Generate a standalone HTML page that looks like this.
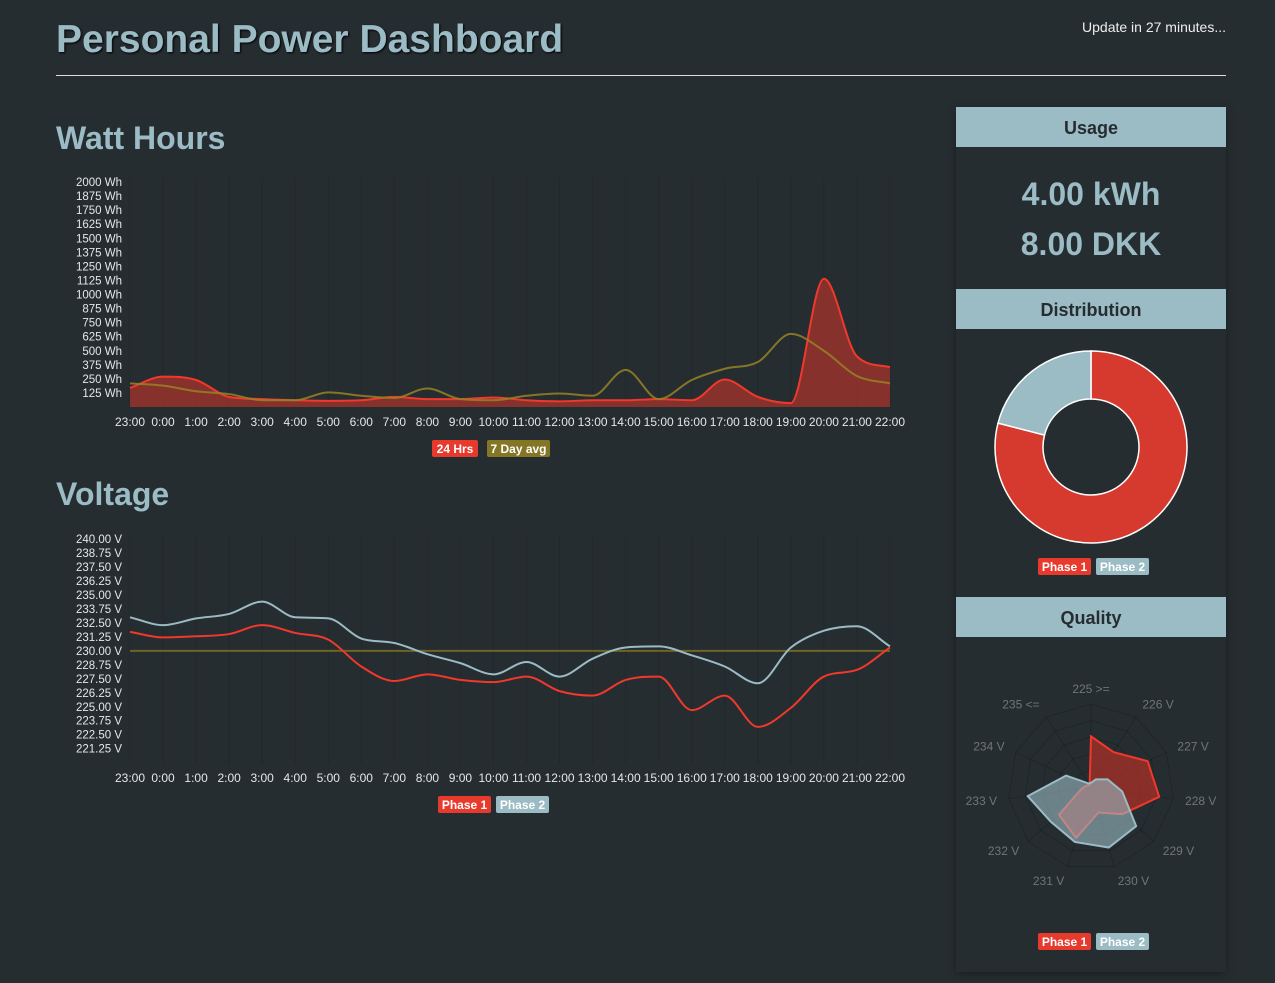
<!DOCTYPE html>
<html><head><meta charset="utf-8">
<style>
body{margin:0;width:1275px;height:983px;background:#262d31;font-family:"Liberation Sans",sans-serif;overflow:hidden;position:relative}
.abs{position:absolute}
h1{position:absolute;left:56px;top:18px;margin:0;font-size:39px;font-weight:bold;color:#9bbbc5;text-shadow:1px 1px 2px #000}
h2{position:absolute;margin:0;font-size:32px;font-weight:bold;color:#9bbbc5}
.panel{position:absolute;left:956px;top:107px;width:270px;height:865px;background:#262d31;box-shadow:0 2px 8px rgba(0,0,0,0.35)}
.hdr{position:absolute;left:0;width:270px;height:40px;background:#9bbbc5;color:#262d31;font-weight:bold;font-size:18px;text-align:center;line-height:42px}
.big{position:absolute;left:0;width:270px;text-align:center;color:#9bbbc5;font-weight:bold;font-size:32px}
</style></head><body>
<h1>Personal Power Dashboard</h1>
<div class="abs" style="right:49px;top:19px;color:#eee;font-size:14px">Update in 27 minutes...</div>
<div class="abs" style="left:56px;top:75px;width:1170px;height:1px;background:#ddd"></div>
<h2 style="left:56px;top:120px">Watt Hours</h2>
<h2 style="left:56px;top:476px">Voltage</h2>
<div class="panel">
<div class="hdr" style="top:0">Usage</div>
<div class="big" style="top:69px">4.00 kWh</div>
<div class="big" style="top:119px">8.00 DKK</div>
<div class="hdr" style="top:182px">Distribution</div>
<div class="hdr" style="top:490px">Quality</div>
</div>
<svg id="svg" width="1275" height="983" style="position:absolute;left:0;top:0"></svg>
<script>
const hours=["23:00","0:00","1:00","2:00","3:00","4:00","5:00","6:00","7:00","8:00","9:00","10:00","11:00","12:00","13:00","14:00","15:00","16:00","17:00","18:00","19:00","20:00","21:00","22:00"];
const whTicks=[2000,1875,1750,1625,1500,1375,1250,1125,1000,875,750,625,500,375,250,125];
const wh24=[170,270,240,90,70,60,55,60,90,70,70,85,60,50,60,60,70,60,245,90,35,1140,450,355];
const wh7d=[210,190,140,115,60,60,130,100,80,165,70,60,100,120,100,330,70,240,340,400,650,500,275,210];
const vTicks=[240,238.75,237.5,236.25,235,233.75,232.5,231.25,230,228.75,227.5,226.25,225,223.75,222.5,221.25];
const phase1=[231.7,231.2,231.3,231.5,232.3,231.6,231.0,228.6,227.3,227.9,227.4,227.2,227.7,226.4,226.0,227.4,227.7,224.7,226.0,223.2,224.9,227.7,228.3,230.3];
const phase2=[233.0,232.3,232.9,233.3,234.4,233.0,232.9,231.1,230.7,229.7,228.9,227.9,229.0,227.7,229.3,230.3,230.4,229.6,228.6,227.1,230.3,231.8,232.2,230.4];
const vRef=230;
const distLabels=["Phase 1","Phase 2"];
const distValues=[79,21];
const radarLabels=["225 >=","226 V","227 V","228 V","229 V","230 V","231 V","232 V","233 V","234 V","235 <="];
const radarP1=[61,50,75,83,50,32,64,51,11,5,3];
const radarP2=[5,11,22,38,72,76,69,64,77,33,5];

const svg=document.getElementById('svg');const NS='http://www.w3.org/2000/svg';
function el(t,a,txt){const e=document.createElementNS(NS,t);for(const k in a)e.setAttribute(k,a[k]);if(txt!=null)e.textContent=txt;svg.appendChild(e);return e;}
const X0=130,X1=890;
const xs=i=>X0+i*(X1-X0)/(hours.length-1);
function spline(pts){const n=pts.length;const d=[],m=[];
for(let i=0;i<n-1;i++)d.push((pts[i+1][1]-pts[i][1])/(pts[i+1][0]-pts[i][0]));
for(let i=0;i<n;i++){if(i==0)m.push(d[0]);else if(i==n-1)m.push(d[n-2]);else m.push(d[i-1]*d[i]<=0?0:(d[i-1]+d[i])/2);}
for(let i=0;i<n-1;i++){if(d[i]==0){m[i]=0;m[i+1]=0;continue;}const a=m[i]/d[i],b=m[i+1]/d[i],s=a*a+b*b;if(s>9){const t=3/Math.sqrt(s);m[i]=t*a*d[i];m[i+1]=t*b*d[i];}}
let s='M'+pts[0][0]+','+pts[0][1];
for(let i=0;i<n-1;i++){const h=(pts[i+1][0]-pts[i][0])/3;
s+=' C'+(pts[i][0]+h)+','+(pts[i][1]+m[i]*h)+' '+(pts[i+1][0]-h)+','+(pts[i+1][1]-m[i+1]*h)+' '+pts[i+1][0]+','+pts[i+1][1];}return s;}
function axes(ticks,yf,fmt,xlabY,nameP){
 hours.forEach((h,i)=>{const g=el('line',{x1:xs(i),x2:xs(i),y1:yf(ticks[0])-4,y2:xlabY-18,stroke:'rgba(0,0,0,0.12)'});
 
 const t=el('text',{x:xs(i),y:xlabY,'text-anchor':'middle','font-size':12,fill:'#e6e6e6'},h);
 });
 ticks.forEach(v=>{const t=el('text',{x:122,y:yf(v)+4,'text-anchor':'end','font-size':11.5,fill:'#e6e6e6'},fmt(v));
 });
}
// Watt hours chart
const whY=v=>407-v*(407-182)/2000;
axes(whTicks,whY,v=>v+' Wh',426,'wh');
let pts=wh24.map((v,i)=>[xs(i),whY(v)]);
let a=el('path',{d:spline(pts)+' L'+X1+','+whY(0)+' L'+X0+','+whY(0)+' Z',fill:'rgba(160,50,44,0.8)'});

a=el('path',{d:spline(pts),fill:'none',stroke:'#f2382b','stroke-width':2});

pts=wh7d.map((v,i)=>[xs(i),whY(v)]);
a=el('path',{d:spline(pts),fill:'none',stroke:'rgba(150,130,38,0.85)','stroke-width':2});

// Voltage chart
const vY=v=>539+(240-v)*(748.7-539)/18.75;
axes(vTicks,vY,v=>v.toFixed(2)+' V',782,'volt');
a=el('line',{x1:X0,x2:X1,y1:vY(vRef),y2:vY(vRef),stroke:'#6f6424','stroke-width':2});

a=el('path',{d:spline(phase2.map((v,i)=>[xs(i),vY(v)])),fill:'none',stroke:'#9bbbc5','stroke-width':2});

a=el('path',{d:spline(phase1.map((v,i)=>[xs(i),vY(v)])),fill:'none',stroke:'#f2382b','stroke-width':2});

// legends
function badge(x,y,w,txt,bg,name){const r=el('rect',{x:x,y:y,width:w,height:17,rx:2,fill:bg});

const t=el('text',{x:x+w/2,y:y+13,'text-anchor':'middle','font-size':12,'font-weight':'bold',fill:'#fff'},txt);
}
badge(432,440,46,'24 Hrs','#e8392d','legend-24hrs');badge(487,440,63,'7 Day avg','#857625','legend-7day-avg');
badge(438,796,53,'Phase 1','#e8392d','legend-volt-phase1');badge(496,796,53,'Phase 2','#9bbbc5','legend-volt-phase2');
badge(1038,558,53,'Phase 1','#e8392d','legend-dist-phase1');badge(1096,558,53,'Phase 2','#9bbbc5','legend-dist-phase2');
badge(1038,933,53,'Phase 1','#e8392d','legend-quality-phase1');badge(1096,933,53,'Phase 2','#9bbbc5','legend-quality-phase2');
// Donut
const cx=1091,cy=447,Ro=96,Ri=48,tot=distValues.reduce((s,v)=>s+v,0);let ang=0;const dcol=['#d63a2f','#9bbbc5'];
distValues.forEach((v,k)=>{const a0=ang,a1=ang+v/tot*2*Math.PI;ang=a1;const P=(r,t)=>[cx+r*Math.sin(t),cy-r*Math.cos(t)];
const big=(a1-a0)>Math.PI?1:0;const p1=P(Ro,a0),p2=P(Ro,a1),p3=P(Ri,a1),p4=P(Ri,a0);
const s=el('path',{d:`M${p1} A${Ro},${Ro} 0 ${big} 1 ${p2} L${p3} A${Ri},${Ri} 0 ${big} 0 ${p4} Z`,fill:dcol[k],stroke:'#fff','stroke-width':1.5});
 });
// Radar
const rx=1091,ry=787,RR=83,N=radarLabels.length;
const RP=(r,i)=>{const t=i*2*Math.PI/N;return [rx+r*Math.sin(t),ry-r*Math.cos(t)];};
for(let k=1;k<=5;k++){const p=radarLabels.map((_,i)=>RP(RR*k/5,i).join(',')).join(' ');
const g=el('polygon',{points:p,fill:'none',stroke:'rgba(0,0,0,0.18)'});}
radarLabels.forEach((l,i)=>{const e=RP(RR,i);const g=el('line',{x1:rx,y1:ry,x2:e[0],y2:e[1],stroke:'rgba(0,0,0,0.18)'});

const q=RP(RR+12,i);const sx=Math.sin(i*2*Math.PI/N);const cyv=-Math.cos(i*2*Math.PI/N);
const anchor=Math.abs(sx)<0.05?'middle':(sx>0?'start':'end');
const t=el('text',{x:q[0],y:q[1]+4+cyv*3,'text-anchor':anchor,'font-size':12,fill:'#6f7579'},l);
});
function rpoly(vals,fill,stroke,name){const p=vals.map((v,i)=>RP(RR*v/100,i).join(',')).join(' ');
const g=el('polygon',{points:p,fill:fill,stroke:stroke,'stroke-width':2});}
rpoly(radarP1,'rgba(170,48,40,0.75)','#f2382b','radar-phase1');
rpoly(radarP2,'rgba(155,187,197,0.6)','#9bbbc5','radar-phase2');
</script>
</body></html>
